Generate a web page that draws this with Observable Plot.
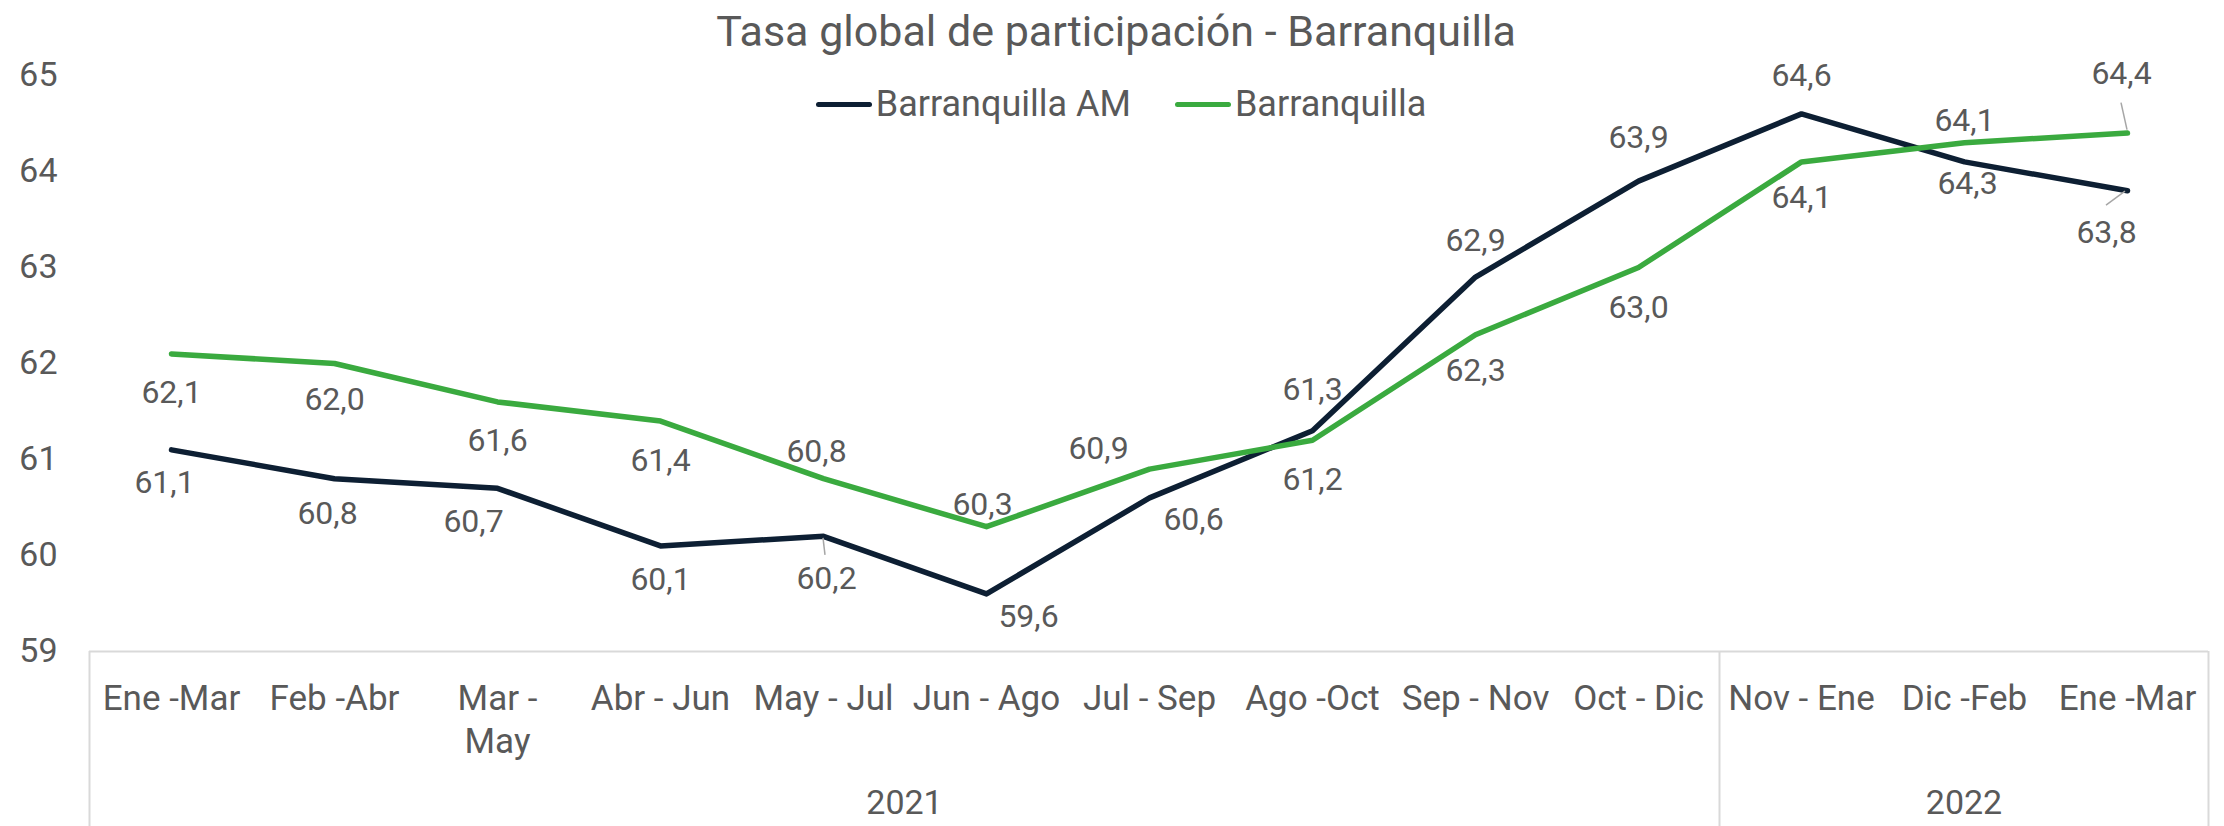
<!DOCTYPE html>
<html>
<head>
<meta charset="utf-8">
<script src="https://cdn.jsdelivr.net/npm/d3@7"></script>
<script src="https://cdn.jsdelivr.net/npm/@observablehq/plot@0.6"></script>
<style>
  html, body { margin: 0; padding: 0; background: #ffffff; }
  #wrap { position: relative; width: 2224px; height: 826px; font-family: Roboto, "Open Sans", sans-serif; color: #595959; }
  #title { position: absolute; left: 0; top: 5px; width: 2224px; text-align: center; font-size: 43px; line-height: 52px; white-space: nowrap; padding-left: 8px; box-sizing: border-box; }
  #legend { position: absolute; left: 9px; top: 82px; width: 2224px; height: 44px; display: flex; justify-content: center; align-items: center; font-size: 36px; line-height: 44px; }
  .item { display: flex; align-items: center; margin: 0 22px; }
  .sw { width: 56px; height: 5px; border-radius: 3px; margin-right: 4px; }
  #chart { position: absolute; left: 0; top: 0; }
</style>
</head>
<body>
<div id="wrap">
  <div id="chart"></div>
  <div id="title"></div>
  <div id="legend"></div>
</div>
<script>
// ---------- data ----------
const title = "Tasa global de participación - Barranquilla";
const periods = ["Ene -Mar", "Feb -Abr", "Mar -\nMay", "Abr - Jun", "May - Jul", "Jun - Ago", "Jul - Sep", "Ago -Oct", "Sep - Nov", "Oct - Dic", "Nov - Ene", "Dic -Feb", "Ene -Mar"];
const periodYears = ["2021", "2021", "2021", "2021", "2021", "2021", "2021", "2021", "2021", "2021", "2022", "2022", "2022"];
const seriesNames = ["Barranquilla AM", "Barranquilla"];
const barranquillaAM = [61.1, 60.8, 60.7, 60.1, 60.2, 59.6, 60.6, 61.3, 62.9, 63.9, 64.6, 64.1, 63.8];
const barranquilla   = [62.1, 62.0, 61.6, 61.4, 60.8, 60.3, 60.9, 61.2, 62.3, 63.0, 64.1, 64.3, 64.4];
const yTicks = [59, 60, 61, 62, 63, 64, 65];

// ---------- layout / style ----------
const colors = ["#0d1f33", "#3aaa3f"];
const textColor = "#595959";
// label centre offsets (px) from each point
const labelOffsetsAM = [[-7,33],[-7,35],[-24,33],[0,34],[3,42],[42,23],[44,22],[0,-41],[0,-36],[0,-43],[0,-38],[0,-41],[-21,42]];
const labelOffsetsB  = [[0,39],[0,36],[0,39],[0,40],[-7,-27],[-4,-22],[-51,-20],[0,39],[0,36],[0,40],[0,36],[3,41],[-6,-59]];
// leader lines: [seriesIndex, pointIndex, [x1,y1], [x2,y2]] offsets from the point
const leaders = [[0, 4, [0, 2], [2, 19]], [0, 12, [-2, 1], [-21, 15]], [1, 12, [0, -3], [-6, -30]]];

const keys = periods.map((p, i) => periodYears[i] + "|" + i);
const seriesValues = [barranquillaAM, barranquilla];
const rows = [];
seriesNames.forEach((s, si) => keys.forEach((k, i) => rows.push({key: k, series: s, value: seriesValues[si][i], i})));

const fmt = v => v.toFixed(1).replace(".", ",");

// title and legend
document.getElementById("title").textContent = title;
const legend = document.getElementById("legend");
seriesNames.forEach((s, si) => {
  const it = document.createElement("div"); it.className = "item";
  const sw = document.createElement("div"); sw.className = "sw"; sw.style.background = colors[si];
  const tx = document.createElement("span"); tx.textContent = s;
  it.appendChild(sw); it.appendChild(tx); legend.appendChild(it);
});

// custom marks using the plot's scales
function yearGroups(index, scales, values, dims) {
  const x = scales.x, y = scales.y;
  const step = x(keys[1]) - x(keys[0]);
  const g = d3.create("svg:g");
  const years = [...new Set(periodYears)];
  const y0 = y(yTicks[0]);
  let lastRight = null;
  years.forEach(yr => {
    const idx = periodYears.map((v, i) => v === yr ? i : -1).filter(i => i >= 0);
    const left = x(keys[idx[0]]) - step / 2;
    const right = x(keys[idx[idx.length - 1]]) + step / 2;
    g.append("line").attr("x1", left).attr("x2", left).attr("y1", y0).attr("y2", dims.height)
      .attr("stroke", "#d9d9d9").attr("stroke-width", 2);
    lastRight = right;
    g.append("text").attr("x", (left + right) / 2).attr("y", y0 + 163)
      .attr("text-anchor", "middle").attr("fill", textColor).attr("font-size", 34).text(yr);
  });
  g.append("line").attr("x1", lastRight).attr("x2", lastRight).attr("y1", y0).attr("y2", dims.height)
    .attr("stroke", "#d9d9d9").attr("stroke-width", 2);
  return g.node();
}

function leaderLines(index, scales) {
  const g = d3.create("svg:g");
  leaders.forEach(([si, i, a, b]) => {
    const px = scales.x(keys[i]), py = scales.y(seriesValues[si][i]);
    g.append("line").attr("x1", px + a[0]).attr("y1", py + a[1]).attr("x2", px + b[0]).attr("y2", py + b[1])
      .attr("stroke", "#a6a6a6").attr("stroke-width", 1.5);
  });
  return g.node();
}

const labelMarks = [];
[labelOffsetsAM, labelOffsetsB].forEach((offs, si) => {
  keys.forEach((k, i) => {
    labelMarks.push(Plot.text([{key: k, value: seriesValues[si][i]}], {
      x: "key", y: "value", text: d => fmt(d.value),
      dx: offs[i][0], dy: offs[i][1], fill: textColor, fontSize: 32, lineAnchor: "middle"
    }));
  });
});

const plot = Plot.plot({
  width: 2224,
  height: 826,
  marginLeft: 89,
  marginRight: 16,
  marginTop: 75,
  marginBottom: 175,
  style: {fontFamily: "Roboto, 'Open Sans', sans-serif", fontSize: "32px", color: textColor, background: "transparent"},
  x: {type: "point", domain: keys, padding: 0.5, align: 0.5},
  y: {domain: [59, 65]},
  color: {domain: seriesNames, range: colors},
  marks: [
    Plot.ruleY([yTicks[0]], {stroke: "#d9d9d9", strokeWidth: 2}),
    yearGroups,
    Plot.line(rows, {x: "key", y: "value", z: "series", stroke: "series", strokeWidth: 5.5, strokeLinejoin: "round", strokeLinecap: "round"}),
    leaderLines,
    ...labelMarks,
    Plot.axisY(yTicks, {tickSize: 0, tickPadding: 32, fill: textColor, fontSize: 34, label: null, tickFormat: d => String(d)}),
    Plot.axisX({tickSize: 0, tickPadding: 28, fill: textColor, fontSize: 35, lineHeight: 1.22, label: null,
      tickFormat: k => periods[keys.indexOf(k)]})
  ]
});
document.getElementById("chart").appendChild(plot);
</script>
</body>
</html>
